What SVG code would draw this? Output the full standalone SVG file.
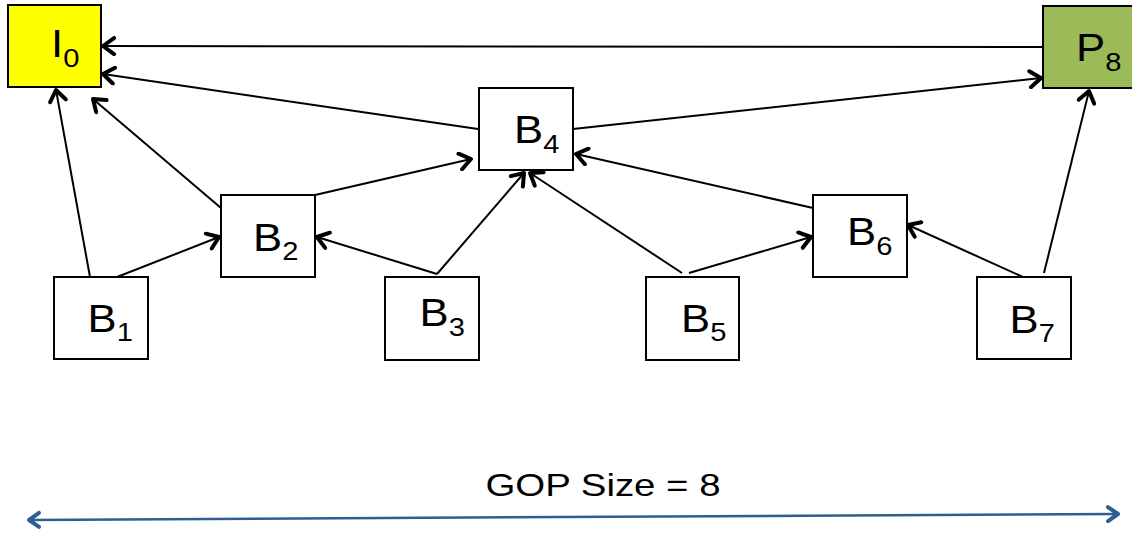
<svg xmlns="http://www.w3.org/2000/svg" width="1132" height="533" viewBox="0 0 1132 533">
<style>
.box{stroke:#000;stroke-width:2;fill:#fff}
.lbl{font-family:"Liberation Sans",Arial,sans-serif;font-size:39px;fill:#000}
.sub{font-size:26px}
.conn{stroke:#000;stroke-width:2;fill:none;marker-end:url(#ah)}
.gop{stroke:#2E5E94;stroke-width:2.5;fill:none;marker-start:url(#bh);marker-end:url(#bh)}
</style>
<defs>
<marker id="ah" viewBox="0 0 20 20" refX="16" refY="10" markerWidth="20" markerHeight="20" markerUnits="userSpaceOnUse" orient="auto">
<path d="M5,2 L16,10 L5,18" fill="none" stroke="#000" stroke-width="4" stroke-linecap="round" stroke-linejoin="round"/>
</marker>
<marker id="bh" viewBox="0 0 20 20" refX="16" refY="10" markerWidth="20" markerHeight="20" markerUnits="userSpaceOnUse" orient="auto-start-reverse">
<path d="M6,3 L16,10 L6,17" fill="none" stroke="#2E5E94" stroke-width="4" stroke-linecap="round" stroke-linejoin="round"/>
</marker>
</defs>
<rect width="1132" height="533" fill="#fff"/>
<g id="connectors">
<line class="conn" x1="1043" y1="47" x2="103" y2="46"/>
<line class="conn" x1="478" y1="129" x2="103" y2="74"/>
<line class="conn" x1="573" y1="129" x2="1041" y2="78"/>
<line class="conn" x1="90" y1="277" x2="56" y2="90"/>
<line class="conn" x1="221" y1="208" x2="93" y2="99"/>
<line class="conn" x1="117" y1="277" x2="219" y2="237"/>
<line class="conn" x1="315" y1="195" x2="471" y2="159"/>
<line class="conn" x1="437" y1="274" x2="317" y2="237"/>
<line class="conn" x1="437" y1="274" x2="524" y2="173"/>
<line class="conn" x1="682" y1="273" x2="530" y2="173"/>
<line class="conn" x1="689" y1="273" x2="811" y2="237"/>
<line class="conn" x1="813" y1="208" x2="576" y2="154"/>
<line class="conn" x1="1023" y1="277" x2="908" y2="225"/>
<line class="conn" x1="1044" y1="273" x2="1089" y2="91"/>
<line class="gop" x1="29" y1="520" x2="1118" y2="514"/>
</g>
<g id="I0">
<rect class="box" x="8" y="5" width="93" height="82" style="fill:#FFFF00"/>
<text class="lbl" transform="translate(51,57) scale(1.12,1)">I<tspan class="sub" dy="10">0</tspan></text>
</g>
<g id="P8">
<rect class="box" x="1043" y="6" width="96" height="82" style="fill:#9BBB59"/>
<text class="lbl" transform="translate(1076,61) scale(1.12,1)">P<tspan class="sub" dy="10">8</tspan></text>
</g>
<g id="B4">
<rect class="box" x="479" y="88" width="94" height="82"/>
<text class="lbl" transform="translate(514,143) scale(1.12,1)">B<tspan class="sub" dy="10">4</tspan></text>
</g>
<g id="B2">
<rect class="box" x="221" y="195" width="94" height="82"/>
<text class="lbl" transform="translate(253,251) scale(1.12,1)">B<tspan class="sub" dy="9">2</tspan></text>
</g>
<g id="B6">
<rect class="box" x="813" y="195" width="94" height="82"/>
<text class="lbl" transform="translate(847,245) scale(1.12,1)">B<tspan class="sub" dy="10">6</tspan></text>
</g>
<g id="B1">
<rect class="box" x="54" y="277" width="94" height="82"/>
<text class="lbl" transform="translate(87.5,332) scale(1.12,1)">B<tspan class="sub" dy="9">1</tspan></text>
</g>
<g id="B3">
<rect class="box" x="385" y="277" width="94" height="83"/>
<text class="lbl" transform="translate(419.5,326) scale(1.12,1)">B<tspan class="sub" dy="10">3</tspan></text>
</g>
<g id="B5">
<rect class="box" x="646" y="277" width="93" height="83"/>
<text class="lbl" transform="translate(681,332) scale(1.12,1)">B<tspan class="sub" dy="9">5</tspan></text>
</g>
<g id="B7">
<rect class="box" x="977" y="277" width="94" height="82"/>
<text class="lbl" transform="translate(1009.5,333) scale(1.12,1)">B<tspan class="sub" dy="9">7</tspan></text>
</g>
<g id="gop-label">
<text class="lbl" style="font-size:32px" transform="translate(485.5,496) scale(1.2,1)">GOP Size = 8</text>
</g>
</svg>
